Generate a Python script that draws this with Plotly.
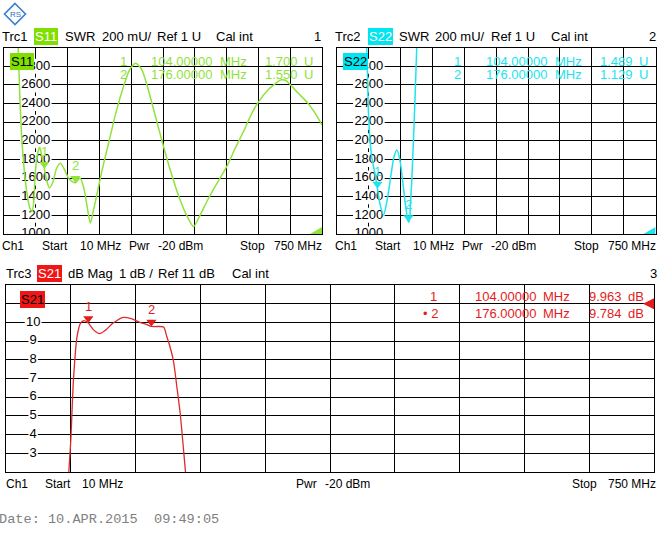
import plotly.graph_objects as go

W, H = 660, 543

# ---------------- data ----------------
f_start, f_stop = 10, 750          # MHz
swr_range = [1000, 3000]           # mU
s21_range = [2, 12]                # dB

swr_ticks = [1000, 1200, 1400, 1600, 1800, 2000, 2200, 2400, 2600, 2800]
s21_ticks = [3, 4, 5, 6, 7, 8, 9, 10, 11]

s11_freq = [10, 25, 38, 43, 47, 51, 55, 59, 63, 67, 71, 75, 79, 82, 86, 90, 93, 97,
            104, 110, 116, 124, 132, 141, 150, 160, 168, 176, 182, 187, 193, 199, 205,
            211, 218, 226, 240, 257, 272, 288, 302, 316, 330, 344, 362, 379, 396, 414,
            432, 451, 466, 484, 505, 528, 548, 569, 585, 600, 624, 640, 655, 665, 675,
            695, 717, 735, 750]
s11_val = [5200, 4200, 3400, 3000, 2450, 2050, 1800, 1600, 1450, 1340, 1270, 1240, 1330,
           1600, 1800, 1900, 1930, 1860, 1700, 1560, 1495, 1560, 1700, 1760, 1700, 1600,
           1565, 1550, 1580, 1600, 1540, 1420, 1250, 1118, 1250, 1420, 1720, 2045, 2330,
           2580, 2760, 2833, 2770, 2578, 2270, 1977, 1700, 1440, 1230, 1080, 1200, 1365,
           1540, 1720, 1920, 2117, 2280, 2403, 2546, 2610, 2655, 2650, 2610, 2510, 2405,
           2290, 2170]

s22_freq = [10, 40, 70, 79, 83, 87, 91, 96, 100, 104, 110, 118, 126, 135, 142, 149, 156,
            163, 168, 172, 176, 178, 181, 184, 188, 192, 196, 205, 230, 300, 450, 600, 750]
s22_val = [6000, 5000, 3600, 3000, 2313, 1991, 1816, 1700, 1600, 1489, 1320, 1204, 1350,
           1620, 1820, 1902, 1800, 1550, 1350, 1220, 1129, 1140, 1350, 1600, 2050, 2550,
           3100, 4200, 6000, 8000, 9000, 9000, 9000]

s21_freq = [10, 60, 72, 76, 80, 82, 84, 87, 91, 95, 99, 104, 110, 117, 124, 132, 144, 153,
            163, 170, 176, 183, 190, 193.5, 196, 201, 205, 209, 215, 220, 230, 260, 400, 750]
s21_val = [-30, -15, -7, -3, 0.5, 2.2, 3.7, 6.9, 9.2, 9.95, 10.1, 9.963, 9.6, 9.4, 9.6,
           9.95, 10.27, 10.2, 10.0, 9.9, 9.784, 9.78, 9.75, 9.26, 8.9, 8.0, 6.6, 5.1, 2.0,
           -0.5, -5, -20, -40, -50]

mk_freq = [104, 176]
s11_mk = [1.700, 1.550]   # U
s22_mk = [1.489, 1.129]   # U
s21_mk = [9.963, 9.784]   # dB

# frequency at which the y-scale labels are centred
swr_label_f = 84
s21_label_f = 41

GREEN, GREEN_BOX = "#8fe33a", "#7fe000"
CYAN, CYAN_BOX = "#1ce4ee", "#00e5f0"
RED, RED_BOX, RED_LINE = "#e41c1c", "#f01616", "#dd2a2a"
FONT = "Liberation Sans, Arial, sans-serif"


def X(px):
    return px / W


def Y(py):
    return 1 - py / H


panels = [
    dict(x0=4, x1=322, y0=47.7, y1=234),
    dict(x0=337, x1=655.5, y0=47.7, y1=234),
    dict(x0=6, x1=654, y0=285, y1=472),
]


def axis(domain, rng, dtick, tick0, anchor):
    return dict(domain=domain, range=rng, dtick=dtick, tick0=tick0, anchor=anchor,
                showgrid=True, gridcolor="black", gridwidth=1, showline=True,
                linecolor="black", linewidth=1, mirror=True, zeroline=False,
                showticklabels=False, ticks="", fixedrange=True)


fig = go.Figure()
shapes = []

# ---------------- y-scale labels (under the traces, over the grid) ----------------
for xa, ya, ticks, lf in [("x", "y", swr_ticks, swr_label_f), ("x2", "y2", swr_ticks, swr_label_f),
                          ("x3", "y3", s21_ticks, s21_label_f)]:
    fig.add_trace(go.Scatter(x=[lf] * len(ticks), y=ticks, xaxis=xa, yaxis=ya, mode="text",
                             text=[str(t) for t in ticks], textposition="middle center",
                             textfont=dict(size=13, color="black", family=FONT),
                             cliponaxis=True, hoverinfo="skip"))
    for t in ticks:
        hw = len(str(t)) * 3.7 + 1
        shapes.append(dict(type="rect", xref=xa, yref=ya, xsizemode="pixel", ysizemode="pixel",
                           xanchor=lf, yanchor=t, x0=-hw, x1=hw, y0=-7.5, y1=7.5,
                           fillcolor="white", line=dict(width=0), layer="between"))

# ---------------- traces ----------------
fig.add_trace(go.Scatter(x=s11_freq, y=s11_val, xaxis="x", yaxis="y", mode="lines",
                         line=dict(color=GREEN, width=1.5, shape="spline", smoothing=0.7),
                         hoverinfo="skip"))
fig.add_trace(go.Scatter(x=s22_freq, y=s22_val, xaxis="x2", yaxis="y2", mode="lines",
                         line=dict(color=CYAN, width=1.5, shape="spline", smoothing=0.7),
                         hoverinfo="skip"))
fig.add_trace(go.Scatter(x=s21_freq, y=s21_val, xaxis="x3", yaxis="y3", mode="lines",
                         line=dict(color=RED_LINE, width=1.3, shape="spline", smoothing=0.7),
                         hoverinfo="skip"))

mk_sets = [("x", "y", s11_mk, 1000, GREEN), ("x2", "y2", s22_mk, 1000, CYAN),
           ("x3", "y3", s21_mk, 1, RED)]
for xa, ya, vals, scale, col in mk_sets:
    fig.add_trace(go.Scatter(x=mk_freq, y=[v * scale for v in vals], xaxis=xa, yaxis=ya,
                             mode="markers", cliponaxis=False, hoverinfo="skip",
                             marker=dict(symbol="triangle-up", angle=180, standoff=4.5,
                                         size=9, color=col, line=dict(width=0))))

ann = []


def txt(px, py, text, color="black", size=13, xanchor="left", bg=None, family=FONT,
        pad=0):
    a = dict(x=X(px), y=Y(py), xref="paper", yref="paper", text=text, showarrow=False,
             xanchor=xanchor, yanchor="middle", font=dict(color=color, size=size, family=family),
             borderpad=pad, borderwidth=0)
    if bg:
        a["bgcolor"] = bg
    ann.append(a)


# marker number labels
for xa, ya, vals, scale, col in mk_sets:
    for i, (f, v) in enumerate(zip(mk_freq, vals)):
        ann.append(dict(x=f, y=v * scale, xref=xa, yref=ya, text=str(i + 1), showarrow=False,
                        xanchor="center", yanchor="middle", yshift=17,
                        font=dict(color=col, size=13, family=FONT)))

# headers
hy = 36
txt(2, hy, "Trc1"); txt(34, hy, "S11", "white", bg=GREEN_BOX, pad=1)
txt(65, hy, "SWR"); txt(102, hy, "200 mU/"); txt(157, hy, "Ref 1 U"); txt(216, hy, "Cal int")
txt(321, hy, "1", xanchor="right")
txt(335, hy, "Trc2"); txt(368, hy, "S22", "white", bg=CYAN_BOX, pad=1)
txt(399, hy, "SWR"); txt(435, hy, "200 mU/"); txt(491, hy, "Ref 1 U"); txt(551, hy, "Cal int")
txt(656, hy, "2", xanchor="right")
by = 273
txt(6, by, "Trc3"); txt(37, by, "S21", "white", bg=RED_BOX, pad=1)
txt(68, by, "dB Mag"); txt(119, by, "1 dB /"); txt(158, by, "Ref 11 dB"); txt(232, by, "Cal int")
txt(657, by, "3", xanchor="right")

# in-plot trace labels
txt(10, 61, "S11", "black", bg=GREEN_BOX, pad=1)
txt(343, 61, "S22", "black", bg=CYAN_BOX, pad=1)
txt(20, 299, "S21", "black", bg=RED_BOX, pad=1)

# marker tables
for (xn, xf, xu, xv, xun, rows, col, vals, unit) in [
        (124, 151, 220, 265, 304, (61, 75), GREEN, s11_mk, "U"),
        (457.5, 486, 555, 600, 639, (61, 75), CYAN, s22_mk, "U"),
        (433.5, 475, 543, 589, 628, (296, 313), RED, s21_mk, "dB")]:
    for i, (f, v) in enumerate(zip(mk_freq, vals)):
        label = str(i + 1)
        if unit == "dB" and i == 1:
            txt(xn + 4, rows[i], "\u2022 " + label, col, xanchor="right")
        else:
            txt(xn, rows[i], label, col, xanchor="center")
        txt(xf, rows[i], f"{f:.5f}", col)
        txt(xu, rows[i], "MHz", col)
        txt(xv, rows[i], f"{v:.3f}", col)
        txt(xun, rows[i], unit, col)

# footers
FS = 12
fy = 246
for x0, xr in [(2, 322), (335, 656)]:
    txt(x0, fy, "Ch1", size=FS); txt(x0 + 40, fy, "Start", size=FS)
    txt(x0 + 78, fy, "10 MHz", size=FS)
    txt(x0 + 127, fy, "Pwr", size=FS); txt(x0 + 156, fy, "-20 dBm", size=FS)
    txt(xr - 82, fy, "Stop", size=FS); txt(xr, fy, "750 MHz", size=FS, xanchor="right")
ly = 484
txt(6, ly, "Ch1", size=FS); txt(45, ly, "Start", size=FS); txt(82, ly, "10 MHz", size=FS)
txt(296, ly, "Pwr", size=FS); txt(325, ly, "-20 dBm", size=FS)
txt(572, ly, "Stop", size=FS); txt(656, ly, "750 MHz", size=FS, xanchor="right")

# date
txt(-1, 519, "Date: 10.APR.2015  09:49:05", "#808080", size=13.6,
    family="Liberation Mono, Courier New, monospace")

# logo text
txt(15, 14, "RS", "#2a6ebb", size=8, xanchor="center")

# ---------------- shapes ----------------
# reference position indicators
shapes.append(dict(type="path", xref="x", yref="y", xsizemode="pixel", ysizemode="pixel",
                   xanchor=f_stop, yanchor=swr_range[0], path="M -12,0 L 0,0 L 0,7 Z",
                   fillcolor=GREEN, line=dict(width=0), layer="above"))
shapes.append(dict(type="path", xref="x2", yref="y2", xsizemode="pixel", ysizemode="pixel",
                   xanchor=f_stop, yanchor=swr_range[0], path="M -12,0 L 0,0 L 0,7 Z",
                   fillcolor=CYAN, line=dict(width=0), layer="above"))
shapes.append(dict(type="path", xref="x3", yref="y3", xsizemode="pixel", ysizemode="pixel",
                   xanchor=f_stop, yanchor=11, path="M -11,0 L 1,6 L 1,-6 Z",
                   fillcolor=RED, line=dict(width=0), layer="above"))
# R&S logo diamond
cx, cy, r = 15, 14, 10.5
shapes.append(dict(type="path", xref="paper", yref="paper",
                   path=f"M {X(cx)},{Y(cy - r)} L {X(cx + r)},{Y(cy)} L {X(cx)},{Y(cy + r)} "
                        f"L {X(cx - r)},{Y(cy)} Z",
                   line=dict(color="#3a7fd0", width=1.6), fillcolor="white"))

p1, p2, p3 = panels
fig.update_layout(
    width=W, height=H, margin=dict(l=0, r=0, t=0, b=0),
    paper_bgcolor="white", plot_bgcolor="white", showlegend=False,
    xaxis=axis([X(p1["x0"]), X(p1["x1"])], [f_start, f_stop], 74, f_start, "y"),
    yaxis=axis([Y(p1["y1"]), Y(p1["y0"])], swr_range, 200, swr_range[0], "x"),
    xaxis2=axis([X(p2["x0"]), X(p2["x1"])], [f_start, f_stop], 74, f_start, "y2"),
    yaxis2=axis([Y(p2["y1"]), Y(p2["y0"])], swr_range, 200, swr_range[0], "x2"),
    xaxis3=axis([X(p3["x0"]), X(p3["x1"])], [f_start, f_stop], 74, f_start, "y3"),
    yaxis3=axis([Y(p3["y1"]), Y(p3["y0"])], s21_range, 1, s21_range[0], "x3"),
    annotations=ann, shapes=shapes,
)

fig.write_html("out.html")
